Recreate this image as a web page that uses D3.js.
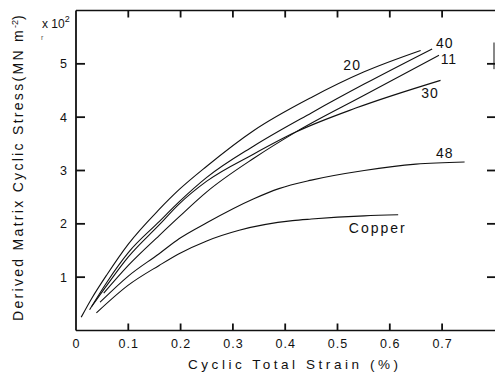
<!DOCTYPE html>
<html><head><meta charset="utf-8">
<script src="https://cdn.jsdelivr.net/npm/d3@7"></script>
<style>
html,body{margin:0;padding:0;background:#fff;}
svg{display:block;font-family:"Liberation Sans",Arial,Helvetica,sans-serif;}
</style></head>
<body>
<svg id="c" width="495" height="377"></svg>
<script>
// ---- data ----
const xTicks = [0, 0.1, 0.2, 0.3, 0.4, 0.5, 0.6, 0.7];
const yTicks = [1, 2, 3, 4, 5];
const seriesNames = ["20", "40", "11", "30", "48", "Copper"];
const s20 = [[0.010,0.25],[0.03,0.60],[0.06,1.06],[0.10,1.62],[0.159,2.27],[0.197,2.64],[0.25,3.08],[0.34,3.75],[0.45,4.37],[0.551,4.85],[0.659,5.25]];
const s40 = [[0.026,0.39],[0.06,0.92],[0.10,1.46],[0.159,2.04],[0.197,2.41],[0.25,2.87],[0.34,3.46],[0.45,4.08],[0.551,4.62],[0.681,5.28]];
const s11 = [[0.053,0.70],[0.10,1.22],[0.159,1.78],[0.197,2.13],[0.25,2.60],[0.34,3.23],[0.42,3.72],[0.551,4.41],[0.694,5.16]];
const s30 = [[0.030,0.45],[0.06,0.86],[0.10,1.38],[0.159,1.98],[0.197,2.37],[0.25,2.80],[0.34,3.31],[0.42,3.72],[0.535,4.17],[0.697,4.69]];
const s48 = [[0.046,0.53],[0.10,1.02],[0.159,1.44],[0.197,1.72],[0.25,2.02],[0.34,2.47],[0.388,2.66],[0.45,2.82],[0.551,3.00],[0.65,3.12],[0.743,3.16]];
const sCu = [[0.039,0.33],[0.10,0.85],[0.159,1.22],[0.197,1.44],[0.25,1.68],[0.312,1.88],[0.414,2.06],[0.45,2.09],[0.551,2.15],[0.616,2.17]];
const seriesData = [s20, s40, s11, s30, s48, sCu];
// label anchor points (baseline) in data units
const labelPos = [[0.528,4.88],[0.705,5.30],[0.713,5.00],[0.677,4.36],[0.705,3.23],[0.577,1.83]];

// ---- chart ----
const svg = d3.select("#c");
const x = d3.scaleLinear().domain([0, 0.8]).range([76, 494.4]);
const y = d3.scaleLinear().domain([0, 6]).range([330.5, 10.5]);
const ink = "#111";

// frame
const fr = svg.append("g").attr("stroke", ink).attr("fill", "none");
fr.append("line").attr("x1", x(0)).attr("x2", 495).attr("y1", y(6)).attr("y2", y(6)).attr("stroke-width", 1.6);
fr.append("line").attr("x1", x(0)).attr("x2", 495).attr("y1", y(0)).attr("y2", y(0)).attr("stroke-width", 1.6);
fr.append("line").attr("x1", x(0)).attr("x2", x(0)).attr("y1", y(6)).attr("y2", y(0)).attr("stroke-width", 1.8);
fr.append("line").attr("x1", 494).attr("x2", 494).attr("y1", y(5.4)).attr("y2", y(4.9)).attr("stroke-width", 1);

// inward tick marks
const tk = svg.append("g").attr("stroke", ink).attr("stroke-width", 1.8);
tk.selectAll(".tb").data(xTicks.slice(1)).join("line")
  .attr("x1", d => x(d)).attr("x2", d => x(d)).attr("y1", y(0)).attr("y2", y(0) - 7);
tk.selectAll(".tt").data(xTicks.slice(1)).join("line")
  .attr("x1", d => x(d)).attr("x2", d => x(d)).attr("y1", y(6)).attr("y2", y(6) + 7);
tk.selectAll(".tl").data(yTicks).join("line")
  .attr("x1", x(0)).attr("x2", x(0) + 9).attr("y1", d => y(d)).attr("y2", d => y(d));
tk.selectAll(".tr").data(yTicks).join("line")
  .attr("x1", 495).attr("x2", 487).attr("y1", d => y(d)).attr("y2", d => y(d));

function styleAxis(g){
  g.select(".domain").remove();
  g.selectAll(".tick line").remove();
  g.selectAll(".tick text").attr("fill", ink).attr("font-size", 12.5).attr("letter-spacing", 1);
}
svg.append("g").attr("transform", `translate(0,${y(0)})`)
  .call(d3.axisBottom(x).tickValues(xTicks).tickSize(0).tickPadding(9)
        .tickFormat(d => d === 0 ? "0" : d3.format(".1f")(d)))
  .call(styleAxis);
svg.append("g").attr("transform", `translate(${x(0)},0)`)
  .call(d3.axisLeft(y).tickValues(yTicks).tickSize(0).tickPadding(8).tickFormat(d3.format("d")))
  .call(styleAxis);

// curves
const line = d3.line().x(d => x(d[0])).y(d => y(d[1])).curve(d3.curveMonotoneX);
svg.append("g").selectAll("path").data(seriesData).join("path")
  .attr("d", line).attr("fill", "none").attr("stroke", ink).attr("stroke-width", 1.1);

// curve labels
svg.append("g").selectAll("text").data(seriesNames).join("text")
  .attr("x", (d, i) => x(labelPos[i][0])).attr("y", (d, i) => y(labelPos[i][1]))
  .attr("text-anchor", "middle").attr("font-size", 14).attr("fill", ink)
  .attr("letter-spacing", d => d === "Copper" ? 2 : 1)
  .text(d => d);

// multiplier
const mult = svg.append("text").attr("x", 42).attr("y", 28).attr("font-size", 12).attr("fill", ink);
mult.append("tspan").text("x 10");
mult.append("tspan").attr("dy", -6).attr("font-size", 9).text("2");
svg.append("text").attr("x", 41).attr("y", 40).attr("font-size", 7).attr("fill", "#555").text("r");

// axis titles
svg.append("text").attr("x", 293).attr("y", 369).attr("text-anchor", "middle")
  .attr("font-size", 13.5).attr("fill", ink)
  .attr("textLength", 210).attr("lengthAdjust", "spacing")
  .text("Cyclic  Total  Strain (%)");
const yl = svg.append("text").attr("transform", "translate(23,167) rotate(-90)")
  .attr("text-anchor", "middle").attr("font-size", 14).attr("fill", ink)
  .attr("letter-spacing", 2.3);
yl.append("tspan").text("Derived Matrix Cyclic Stress(MN m");
yl.append("tspan").attr("dy", -5).attr("font-size", 9).attr("letter-spacing", 0).text("-2");
yl.append("tspan").attr("dy", 5).text(")");
</script>
</body></html>
